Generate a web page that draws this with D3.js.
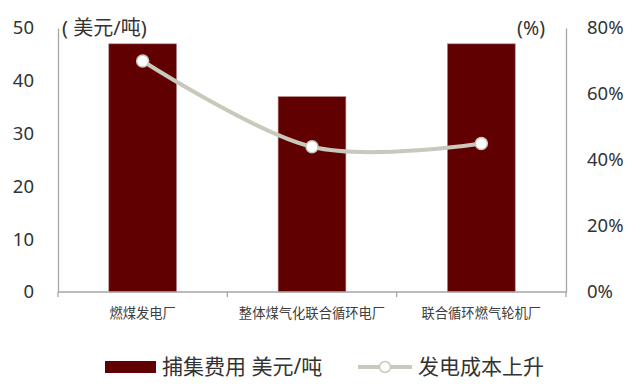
<!DOCTYPE html>
<html><head><meta charset="utf-8">
<script src="https://cdn.jsdelivr.net/npm/d3@7/dist/d3.min.js"></script>
<style>
html,body{margin:0;padding:0;background:#fff;}
text{font-family:"Noto Sans","Noto Sans CJK SC",sans-serif;}
</style></head>
<body>
<svg id="chart" width="629" height="388"></svg>
<script>
const categories = ["燃煤发电厂", "整体煤气化联合循环电厂", "联合循环燃气轮机厂"];
const captureCost = [47, 37, 47];
const costIncrease = [70, 44, 45];
const leftTicks = [0, 10, 20, 30, 40, 50];
const rightTicks = [0, 20, 40, 60, 80];
const barSeriesName = "捕集费用 美元/吨";
const lineSeriesName = "发电成本上升";
const leftUnit = "( 美元/吨)";
const rightUnit = "(%)";

const svg = d3.select("#chart");
const plot = {left: 58, right: 566, top: 28, bottom: 292};
const barColor = "#600000";
const lineColor = "#c8c8bd";
const axisColor = "#a6a6a6";
const textColor = "#333";

const x = d3.scaleBand().domain(categories).range([plot.left, plot.right]).paddingInner(0.6).paddingOuter(0.3);
const xOuter = d3.scaleBand().domain(categories).range([plot.left, plot.right]);
const yL = d3.scaleLinear().domain([0, 50]).range([plot.bottom, plot.top]);
const yR = d3.scaleLinear().domain([0, 80]).range([plot.bottom, plot.top]);

// bars
svg.append("g").selectAll("rect").data(categories).join("rect")
  .attr("x", d => x(d)).attr("width", x.bandwidth())
  .attr("y", (d, i) => yL(captureCost[i]))
  .attr("height", (d, i) => yL(0) - yL(captureCost[i]))
  .attr("fill", barColor).attr("stroke", "#b08080").attr("stroke-width", 0.6);

// left axis
const gL = svg.append("g").attr("transform", `translate(${plot.left},0)`)
  .call(d3.axisLeft(yL).tickValues(leftTicks).tickSize(0).tickPadding(24));
gL.select(".domain").attr("stroke", axisColor).attr("stroke-width", 1.3);
gL.selectAll("text").attr("font-size", 18.5).attr("fill", textColor);

// right axis
const gR = svg.append("g").attr("transform", `translate(${plot.right},0)`)
  .call(d3.axisRight(yR).tickValues(rightTicks).tickFormat(d => d + "%").tickSize(0).tickPadding(21));
gR.select(".domain").attr("stroke", axisColor).attr("stroke-width", 1.3);
gR.selectAll("text").attr("font-size", 18.5).attr("fill", textColor);

// x axis
const tickPos = categories.map(c => xOuter(c)).concat([plot.right]);
const gX = svg.append("g");
gX.append("line").attr("x1", plot.left).attr("x2", plot.right)
  .attr("y1", plot.bottom).attr("y2", plot.bottom).attr("stroke", axisColor).attr("stroke-width", 1.3);
gX.selectAll("line.t").data(tickPos).join("line").attr("class", "t")
  .attr("x1", d => d).attr("x2", d => d).attr("y1", plot.bottom).attr("y2", plot.bottom + 5)
  .attr("stroke", axisColor).attr("stroke-width", 1.3);
gX.selectAll("text").data(categories).join("text")
  .attr("x", d => xOuter(d) + xOuter.bandwidth() / 2).attr("y", 318)
  .attr("text-anchor", "middle").attr("font-size", 13.3).attr("fill", "#404040")
  .text(d => d);

// units
svg.append("text").attr("x", 62).attr("y", 35).attr("font-size", 20).attr("fill", textColor).text(leftUnit);
svg.append("text").attr("x", 545).attr("y", 35).attr("text-anchor", "end").attr("font-size", 19.5).attr("fill", textColor).text(rightUnit);

// line
const cx = d => xOuter(d) + xOuter.bandwidth() / 2;
const line = d3.line().x((d, i) => cx(categories[i])).y(d => yR(d)).curve(d3.curveCardinal.tension(0));
svg.append("path").attr("d", line(costIncrease)).attr("fill", "none")
  .attr("stroke", lineColor).attr("stroke-width", 4);
svg.append("g").selectAll("circle").data(costIncrease).join("circle")
  .attr("cx", (d, i) => cx(categories[i])).attr("cy", d => yR(d)).attr("r", 6)
  .attr("fill", "#fff").attr("stroke", lineColor).attr("stroke-width", 1.5);

// legend
const lg = svg.append("g");
lg.append("rect").attr("x", 105).attr("y", 361).attr("width", 51).attr("height", 12).attr("fill", barColor);
lg.append("text").attr("x", 162).attr("y", 374).attr("font-size", 21).attr("fill", textColor).text(barSeriesName);
lg.append("line").attr("x1", 358).attr("x2", 412).attr("y1", 367).attr("y2", 367).attr("stroke", lineColor).attr("stroke-width", 4);
lg.append("circle").attr("cx", 385).attr("cy", 367).attr("r", 5.5).attr("fill", "#fff").attr("stroke", lineColor).attr("stroke-width", 1.5);
lg.append("text").attr("x", 418).attr("y", 374).attr("font-size", 21).attr("fill", textColor).text(lineSeriesName);
</script>
</body></html>
